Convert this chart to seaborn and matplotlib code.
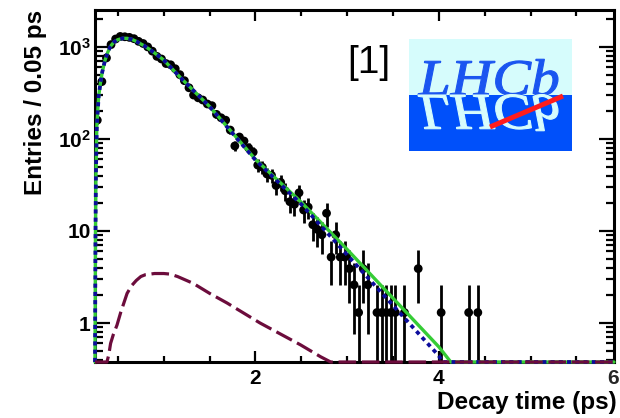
import numpy as np
import pandas as pd
import seaborn as sns
import matplotlib
matplotlib.use("Agg")
import matplotlib.pyplot as plt
from matplotlib.ticker import (FixedLocator, FixedFormatter, LogLocator,
                               MultipleLocator, NullFormatter)
from matplotlib.textpath import TextPath
from matplotlib.patches import PathPatch, Rectangle
from matplotlib.font_manager import FontProperties
from matplotlib.transforms import Affine2D, offset_copy

# ---------------- data ----------------
bin_width = 0.05
bin_lo, bin_hi = 0.25, 4.45
bin_centers = np.round(np.arange(bin_lo + bin_width / 2, bin_hi, bin_width), 3)
counts = [
    160, 420, 760, 1060, 1220, 1300, 1290, 1270, 1230, 1150, 1090, 1000, 900, 790, 740,
    660, 640, 580, 500, 430, 360, 300, 280, 265, 240, 230, 185, 170, 160, 125,
    84, 105, 95, 80, 72,
    52, 49.4, 41.6, 40.3, 31.2, 33.8, 27.3, 20.8, 19.5, 26, 16.9, 18.2, 11.7, 10.4, 9.1,
    15.6, 5.2, 9.1, 5.2, 5.2,
    3.9, 2.6, 1.3, 3.9, 2.6, 0, 1.3, 1.3, 1.3, 1.3, 1.3, 0, 1.3, 0, 0,
    3.9, 0, 0, 0, 0,
    1.3, 0, 0, 0, 0, 0, 1.3, 0, 1.3,
]
event_weight = 1.3

total_t = [0.250, 0.255, 0.260, 0.270, 0.290, 0.310, 0.330, 0.360, 0.390, 0.420,
           0.460, 0.500, 0.550, 0.600, 0.650, 0.700, 0.800, 0.900, 1.000, 1.200,
           1.500, 2.000, 2.500, 3.000, 3.500, 4.000, 4.130, 5.910]
total_v = [0.377, 8, 40, 140, 290, 410, 540, 720, 880, 1020,
           1140, 1200, 1240, 1240, 1210, 1150, 1010, 860, 720, 445,
           225, 60, 20.5, 6.3, 1.86, 0.55, 0.377, 0.377]

signal_t = [0.250, 0.255, 0.260, 0.270, 0.290, 0.310, 0.330, 0.360, 0.390, 0.420,
            0.460, 0.500, 0.550, 0.600, 0.650, 0.700, 0.800, 0.900, 1.000, 1.200,
            1.500, 2.000, 2.500, 2.820, 3.000, 3.500, 4.000, 4.040, 5.910]
signal_v = [0.377, 8, 40, 140, 290, 410, 540, 720, 880, 1020,
            1140, 1200, 1240, 1240, 1210, 1150, 1010, 860, 720, 445,
            225, 59, 19.5, 8.7, 5.5, 1.55, 0.44, 0.377, 0.377]

bkg_t = [0.250, 0.380, 0.400, 0.420, 0.450, 0.490, 0.530, 0.600, 0.650, 0.700,
         0.750, 0.800, 0.850, 0.900, 1.000, 1.070, 1.150, 1.320, 1.500, 1.690,
         2.050, 2.490, 2.710, 2.820, 5.910]
bkg_v = [0.377, 0.377, 0.45, 0.6, 0.75, 0.95, 1.3, 2.1, 2.55, 2.9,
         3.2, 3.35, 3.4, 3.45, 3.45, 3.4, 3.2, 2.7, 2.1, 1.65,
         1.0, 0.58, 0.43, 0.377, 0.377]

x_major = [2, 4]
x_major_labels = ["2", "4"]
x_edge_label = (5.895, "6")
y_major = [1, 10, 100, 1000]
y_major_labels = ["1", "10", r"$10^{2}$", r"$10^{3}$"]
x_range = (0.25, 5.91)
y_range = (0.377, 2520)

# ---------------- style ----------------
sns.set_theme(style="ticks")
plt.rcParams["font.family"] = ["Liberation Sans", "DejaVu Sans"]
plt.rcParams["font.weight"] = "bold"
plt.rcParams["mathtext.fontset"] = "custom"
plt.rcParams["mathtext.rm"] = "Liberation Sans:bold"
plt.rcParams["mathtext.bf"] = "Liberation Sans:bold"
plt.rcParams["mathtext.it"] = "Liberation Sans:bold:italic"
plt.rcParams["mathtext.sf"] = "Liberation Sans:bold"
plt.rcParams["axes.linewidth"] = 2.0
plt.rcParams["axes.edgecolor"] = "black"

fig = plt.figure(figsize=(6.2, 4.18), dpi=100)
ax = fig.add_axes([95 / 620, 56 / 418, 519 / 620, 352 / 418])
ax.set_yscale("log")
ax.set_xlim(*x_range)
ax.set_ylim(*y_range)

# ---------------- data points ----------------
df = pd.DataFrame({"t": bin_centers, "n": counts})
df = df[df.n > 0].reset_index(drop=True)
err = np.sqrt(event_weight * df.n.values)
lower = np.where(df.n.values - err > 0.05, err, df.n.values - 0.05)
ax.errorbar(df.t, df.n, yerr=[lower, err], fmt="none", ecolor="black",
            elinewidth=2.0, capsize=0, zorder=2)
sns.scatterplot(data=df, x="t", y="n", color="black", s=40, edgecolor="none",
                ax=ax, legend=False, zorder=2.2)

# ---------------- fit curves ----------------
sns.lineplot(x=total_t, y=total_v, color="#35cc35", lw=2.4, ax=ax,
             sort=False, estimator=None, zorder=3)
ax.lines[-1].set_clip_on(False)
sns.lineplot(x=signal_t, y=signal_v, color="#0c0c9c", lw=2.7, ax=ax,
             sort=False, estimator=None, zorder=3.1)
ax.lines[-1].set_linestyle((0, (1.1, 1.1)))
ax.lines[-1].set_clip_on(False)
sns.lineplot(x=bkg_t, y=bkg_v, color="#6c0c3c", lw=2.3, ax=ax,
             sort=False, estimator=None, zorder=3.2)
ax.lines[-1].set_linestyle((0, (5.5, 1.8)))
ax.lines[-1].set_clip_on(False)

# ---------------- axes ----------------
ax.xaxis.set_major_locator(FixedLocator(x_major))
ax.xaxis.set_major_formatter(FixedFormatter(x_major_labels))
ax.xaxis.set_minor_locator(MultipleLocator(0.5))
ax.yaxis.set_major_locator(FixedLocator(y_major))
ax.yaxis.set_major_formatter(FixedFormatter(y_major_labels))
ax.yaxis.set_minor_locator(LogLocator(base=10, subs=np.arange(2, 10), numticks=30))
ax.yaxis.set_minor_formatter(NullFormatter())
ax.tick_params(which="both", direction="in", top=True, right=True,
               color="black", width=1.6, labelcolor="black")
ax.tick_params(axis="x", which="major", length=7.7, pad=5.0, labelsize=15)
ax.tick_params(axis="x", which="minor", length=4.1)
ax.tick_params(axis="y", which="major", length=10.5, pad=3.0, labelsize=15)
ax.tick_params(axis="y", which="minor", length=5.5)
for s in ax.spines.values():
    s.set_linewidth(2.2)
    s.set_color("black")
    s.set_zorder(2.5)

ax.text(x_edge_label[0], 0, x_edge_label[1],
        transform=offset_copy(ax.get_xaxis_transform(), fig=fig, y=-5.0, units="points"),
        ha="center", va="top", fontsize=15, fontweight="bold", clip_on=False)

ax.set_xlabel("Decay time (ps)", fontsize=17.5, fontweight="bold", color="black")
xl = ax.xaxis.label
xl.set_ha("right")
xl.set_va("center")
ax.xaxis.set_label_coords((617 - 95) / 519, (362 - 403) / 352)

ax.set_ylabel("Entries / 0.05 ps", fontsize=17.5, fontweight="bold", color="black")
yl = ax.yaxis.label
yl.set_rotation_mode("anchor")
yl.set_ha("right")
yl.set_va("center")
ax.yaxis.set_label_coords((36 - 95) / 519, 1.0)

# ---------------- LHCb logo ----------------
lax = fig.add_axes([409 / 620, (418 - 151) / 418, 163 / 620, 112 / 418])
lax.set_xlim(0, 163)
lax.set_ylim(0, 112)
lax.axis("off")
lax.add_patch(Rectangle((0, 56), 163, 56, color="#d6fcfc", lw=0))
lax.add_patch(Rectangle((0, 0), 163, 56, color="#0050fa", lw=0))
fp = FontProperties(family="Liberation Serif", style="italic", weight="normal")
tp = TextPath((0, 0), "LHCb", size=1, prop=fp)
ext = tp.get_extents()
sx = 140 / ext.width
sy = 34 / 0.66
top_tr = Affine2D().translate(-ext.x0, 0).scale(sx, sy).translate(9, 56)
bot_tr = Affine2D().translate(-ext.x0, 0).scale(sx, -sy).translate(9, 56)
lax.add_patch(PathPatch(top_tr.transform_path(tp), facecolor="#1a55f0",
                        edgecolor="#1a55f0", lw=0.8))
lax.add_patch(PathPatch(bot_tr.transform_path(tp), facecolor="#d6fcfc",
                        edgecolor="#d6fcfc", lw=0.8))
lax.plot([81, 154], [24, 55], color="#ff1c1c", lw=3.6, solid_capstyle="butt")

fig.text(369 / 620, (418 - 63) / 418, "[1]", fontsize=28, fontweight="normal",
         ha="center", va="center", color="black", family=["Liberation Sans", "DejaVu Sans"])

fig.savefig("out.png", dpi=100)
